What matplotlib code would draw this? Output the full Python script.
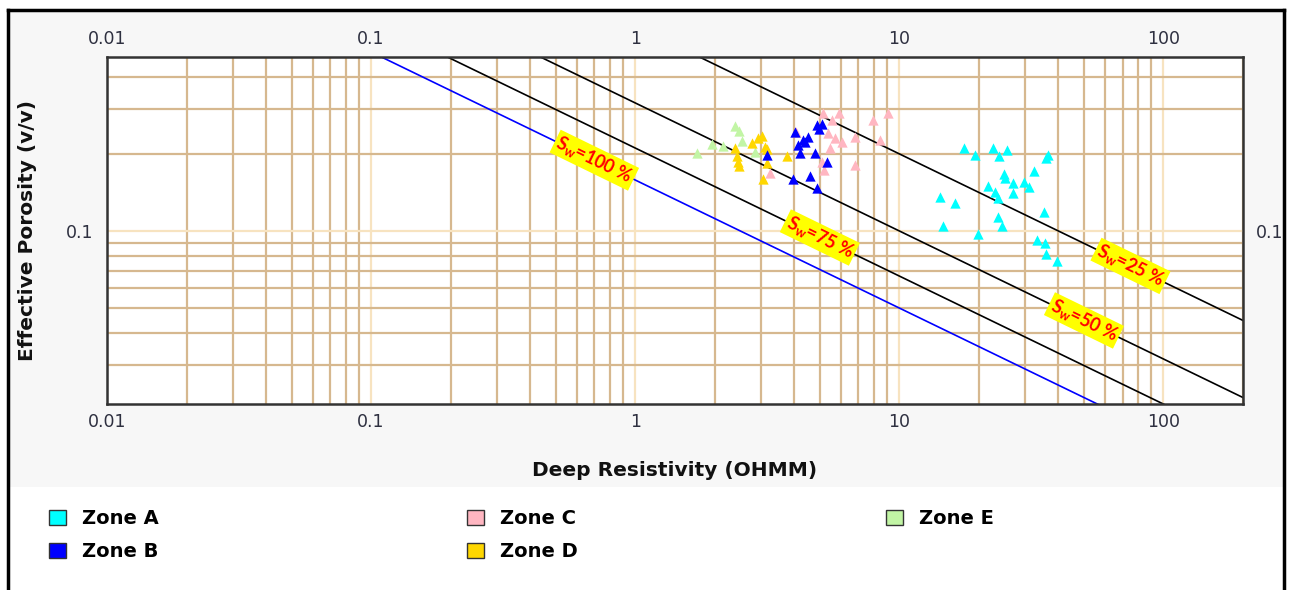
import numpy as np
import matplotlib
matplotlib.use('Agg')
import matplotlib.pyplot as plt
from matplotlib.patches import Patch, Rectangle
from matplotlib.lines import Line2D
from matplotlib.ticker import LogLocator, FixedLocator, NullFormatter

# zone data: deep resistivity (ohmm) vs effective porosity (v/v)
zone_names = ['Zone A', 'Zone B', 'Zone C', 'Zone D', 'Zone E']
zone_colors = ['#00FFFF', '#0000FF', '#FFB6C1', '#FFD700', '#C2F5A5']

zone_a_rt = [17.5, 19.4, 22.7, 23.9, 25.6, 36.6, 36.0, 32.4, 25.0, 25.2, 21.7, 27.0, 27.0, 29.7,
             31.0, 23.1, 23.7, 14.2, 16.3, 35.4, 23.7, 24.5, 14.6, 19.9, 33.3, 35.7, 36.0, 39.4]
zone_a_phi = [0.211, 0.198, 0.211, 0.196, 0.207, 0.198, 0.193, 0.171, 0.167, 0.161, 0.150, 0.154, 0.141, 0.155,
              0.149, 0.142, 0.135, 0.136, 0.129, 0.119, 0.113, 0.105, 0.105, 0.0973, 0.0922, 0.0898, 0.0813, 0.0763]

zone_b_rt = [3.16, 3.94, 4.14, 4.22, 4.04, 4.89, 4.98, 4.52, 4.40, 4.81, 5.34, 4.60, 4.89, 4.33, 5.10]
zone_b_phi = [0.198, 0.160, 0.217, 0.202, 0.244, 0.259, 0.250, 0.233, 0.223, 0.202, 0.186, 0.164, 0.147, 0.226, 0.262]

zone_c_rt = [3.24, 4.06, 5.15, 5.93, 5.57, 7.98, 9.08, 5.38, 5.73, 6.08, 6.81, 5.48, 5.11, 5.20, 6.81, 8.47]
zone_c_phi = [0.169, 0.244, 0.289, 0.289, 0.272, 0.272, 0.289, 0.242, 0.231, 0.223, 0.233, 0.211, 0.186, 0.173, 0.181, 0.226]

zone_d_rt = [2.39, 2.43, 2.45, 2.48, 2.77, 2.92, 3.03, 3.11, 3.16, 3.16, 3.05, 3.77]
zone_d_phi = [0.211, 0.196, 0.186, 0.180, 0.221, 0.231, 0.235, 0.213, 0.209, 0.185, 0.160, 0.196]

zone_e_rt = [1.72, 1.96, 2.14, 2.39, 2.48, 2.54, 2.85]
zone_e_phi = [0.202, 0.219, 0.215, 0.257, 0.246, 0.225, 0.204]

# Archie / Pickett lines
sw_values = [1.0, 0.75, 0.5, 0.25]
sw_labels = ['S$_\\mathregular{w}$=100 %', 'S$_\\mathregular{w}$=75 %',
             'S$_\\mathregular{w}$=50 %', 'S$_\\mathregular{w}$=25 %']
sw_label_rt = [0.7, 5.0, 50.0, 75.0]
sw_colors = ['#0000FF', 'black', 'black', 'black']
a_rw = 0.025
m_exp = 2.0
n_exp = 2.0

x_ticks = [0.01, 0.1, 1, 10, 100]
x_tick_labels = ['0.01', '0.1', '1', '10', '100']
y_ticks = [0.1]
y_tick_labels = ['0.1']


def archie_phi(rt, sw):
    return (a_rw / (rt * sw ** n_exp)) ** (1.0 / m_exp)


fig = plt.figure(figsize=(12.9, 5.9), dpi=100)
fig.patch.set_facecolor('white')
fig.add_artist(Rectangle((8 / 1290, 1 - 487 / 590), 1275 / 1290, 477 / 590,
                         transform=fig.transFigure, facecolor='#F7F7F7', edgecolor='none', zorder=-5))
# outer frame (left, top, right)
for xs, ys in [([8, 8], [10, 590]), ([8, 1284], [10, 10]), ([1284, 1284], [10, 590])]:
    fig.add_artist(Line2D([x / 1290 for x in xs], [1 - y / 590 for y in ys],
                          transform=fig.transFigure, color='black', lw=2.5))

ax = fig.add_axes([107 / 1290, 1 - 404 / 590, 1136 / 1290, 347 / 590])
ax.set_facecolor('white')
ax.set_xscale('log')
ax.set_yscale('log')
ax.set_xlim(0.01, 200)
ax.set_ylim(0.0211, 0.478)

ax.xaxis.set_major_locator(FixedLocator(x_ticks))
ax.set_xticklabels(x_tick_labels)
ax.xaxis.set_minor_locator(LogLocator(base=10, subs=np.arange(2, 10)))
ax.xaxis.set_minor_formatter(NullFormatter())
ax.yaxis.set_major_locator(FixedLocator(y_ticks))
ax.set_yticklabels(y_tick_labels)
ax.yaxis.set_minor_locator(LogLocator(base=10, subs=np.arange(2, 10)))
ax.yaxis.set_minor_formatter(NullFormatter())

ax.grid(which='minor', color='#D6B88F', lw=1.6)
ax.grid(which='major', color='#F7E3C0', lw=1.6)
ax.set_axisbelow(True)

ax.tick_params(which='both', length=0, labelsize=12.5, labelcolor='#2E3040',
               top=True, labeltop=True, right=True, labelright=True)
ax.tick_params(axis='x', which='major', pad=6.5)
ax.tick_params(axis='y', which='major', pad=9.5)
for s in ax.spines.values():
    s.set_color('#333333')
    s.set_linewidth(1.8)

rt_line = np.logspace(-2, np.log10(200), 80)
for sw, col in zip(sw_values, sw_colors):
    ax.plot(rt_line, archie_phi(rt_line, sw), color=col, lw=1.2, zorder=2)

zones = [(zone_a_rt, zone_a_phi, 0), (zone_e_rt, zone_e_phi, 4), (zone_d_rt, zone_d_phi, 3),
         (zone_c_rt, zone_c_phi, 2), (zone_b_rt, zone_b_phi, 1)]
for xs, ys, i in zones:
    ax.scatter(xs, ys, marker='^', s=55, color=zone_colors[i], linewidths=0, zorder=3)

for lab, rt, sw in zip(sw_labels, sw_label_rt, sw_values):
    ax.text(rt, archie_phi(rt, sw), lab, color='red', fontsize=13, fontweight='bold',
            family='Lato', rotation=-26, rotation_mode='anchor', ha='center', va='center',
            bbox=dict(facecolor='#FFFF00', edgecolor='none', pad=1.5), zorder=4)

ax.set_xlabel('Deep Resistivity (OHMM)', fontsize=14.5, fontweight='bold', color='#111111')
ax.xaxis.set_label_coords(0.5, -0.165)
ax.set_ylabel('Effective Porosity (v/v)', fontsize=14.5, fontweight='bold', color='#111111')
ax.yaxis.set_label_coords(-0.062, 0.5)

handles = [Patch(facecolor=c, edgecolor='#333333', lw=1.0) for c in zone_colors]
fig.legend(handles, zone_names, loc='upper left', bbox_to_anchor=(49 / 1290, 1 - 509 / 590),
           ncol=3, frameon=False, prop={'weight': 'bold', 'size': 14},
           handlelength=0.85, handleheight=0.85, handletextpad=0.85, columnspacing=15.85,
           labelspacing=0.72, borderpad=0, borderaxespad=0)

fig.savefig('out.png', dpi=100, facecolor=fig.get_facecolor())
